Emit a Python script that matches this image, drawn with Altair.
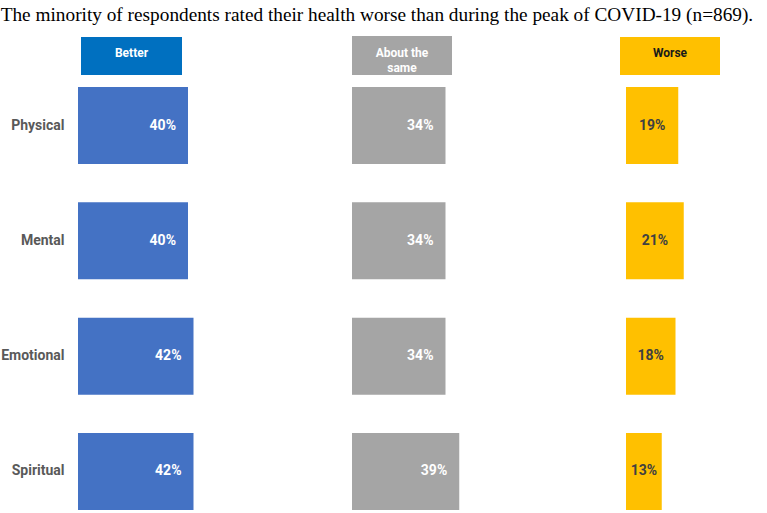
import altair as alt
import pandas as pd

aspects = ["Physical", "Mental", "Emotional", "Spiritual"]
responses = ["Better", "About the same", "Worse"]
better = [40, 40, 42, 42]
same = [34, 34, 34, 39]
worse = [19, 21, 18, 13]

TITLE = "The minority of respondents rated their health worse than during the peak of COVID-19 (n=869)."
FONT = "Roboto"
PX_PER_PCT = 2.75
W = 136
H = 474


def panel(values, bar_color, label_color, label_center, header_color,
          header_text_color, header_lines, hx, hy, show_axis):
    df = pd.DataFrame({"aspect": aspects, "value": values,
                       "label": [f"{v}%" for v in values]})
    xscale = alt.Scale(domain=[0, W / PX_PER_PCT], nice=False, zero=True)
    yscale = alt.Scale(domain=aspects, range=[50, 473], paddingInner=0.332, paddingOuter=0)
    if show_axis:
        yaxis = alt.Axis(title=None, ticks=False, tickSize=0, domain=False, grid=False,
                         labelFont=FONT, labelFontSize=14, labelFontWeight="bold",
                         labelColor="#595959", labelPadding=14)
    else:
        yaxis = None
    base = alt.Chart(df)
    bars = base.mark_bar(color=bar_color, cornerRadius=0).encode(
        x=alt.X("value:Q", scale=xscale, axis=None),
        y=alt.Y("aspect:N", scale=yscale, axis=yaxis, sort=aspects),
    )
    if label_center:
        labels = base.transform_calculate(mid="datum.value / 2").mark_text(
            font=FONT, fontSize=14, fontWeight="bold", color=label_color, align="center",
            baseline="middle",
        ).encode(
            x=alt.X("mid:Q", scale=xscale, axis=None),
            y=alt.Y("aspect:N", scale=yscale, sort=aspects),
            text="label:N",
        )
    else:
        labels = base.mark_text(
            font=FONT, fontSize=14, fontWeight="bold", color=label_color, align="right",
            baseline="middle", dx=-12,
        ).encode(
            x=alt.X("value:Q", scale=xscale, axis=None),
            y=alt.Y("aspect:N", scale=yscale, sort=aspects),
            text="label:N",
        )
    hdf = pd.DataFrame({"h": [1]})
    hbox = alt.Chart(hdf).mark_rect(color=header_color).encode(
        x=alt.value(hx[0]), x2=alt.value(hx[1]), y=alt.value(hy[0]), y2=alt.value(hy[1])
    )
    htext = alt.Chart(hdf).mark_text(
        text=header_lines, font=FONT, fontSize=12, fontWeight="bold",
        color=header_text_color, align="center", baseline="middle", lineHeight=15,
    ).encode(
        x=alt.value((hx[0] + hx[1]) / 2), y=alt.value(16)
    )
    return alt.layer(bars, labels, hbox, htext).properties(width=W, height=H)


p1 = panel(better, "#4472C4", "white", False, "#0070C0", "white", ["Better"],
           (3, 104), (0, 38), True)
p2 = panel(same, "#A5A5A5", "white", False, "#A5A5A5", "white", ["About the", "same"],
           (0, 100), (-1, 38), False)
p3 = panel(worse, "#FFC000", "#404040", True, "#FFC000", "#1a1a1a", ["Worse"],
           (-6, 94), (0, 38), False)

chart = alt.hconcat(p1, p2, p3, spacing=138, bounds="flush").properties(
    title=alt.TitleParams(TITLE, font="Liberation Serif", fontSize=19.3, fontWeight="normal",
                          color="black", anchor="start", offset=11),
    padding={"left": 0, "top": 5, "right": 0, "bottom": 0},
).configure_view(stroke=None)

chart.save("out.html", embed_options={"renderer": "svg", "actions": False})
